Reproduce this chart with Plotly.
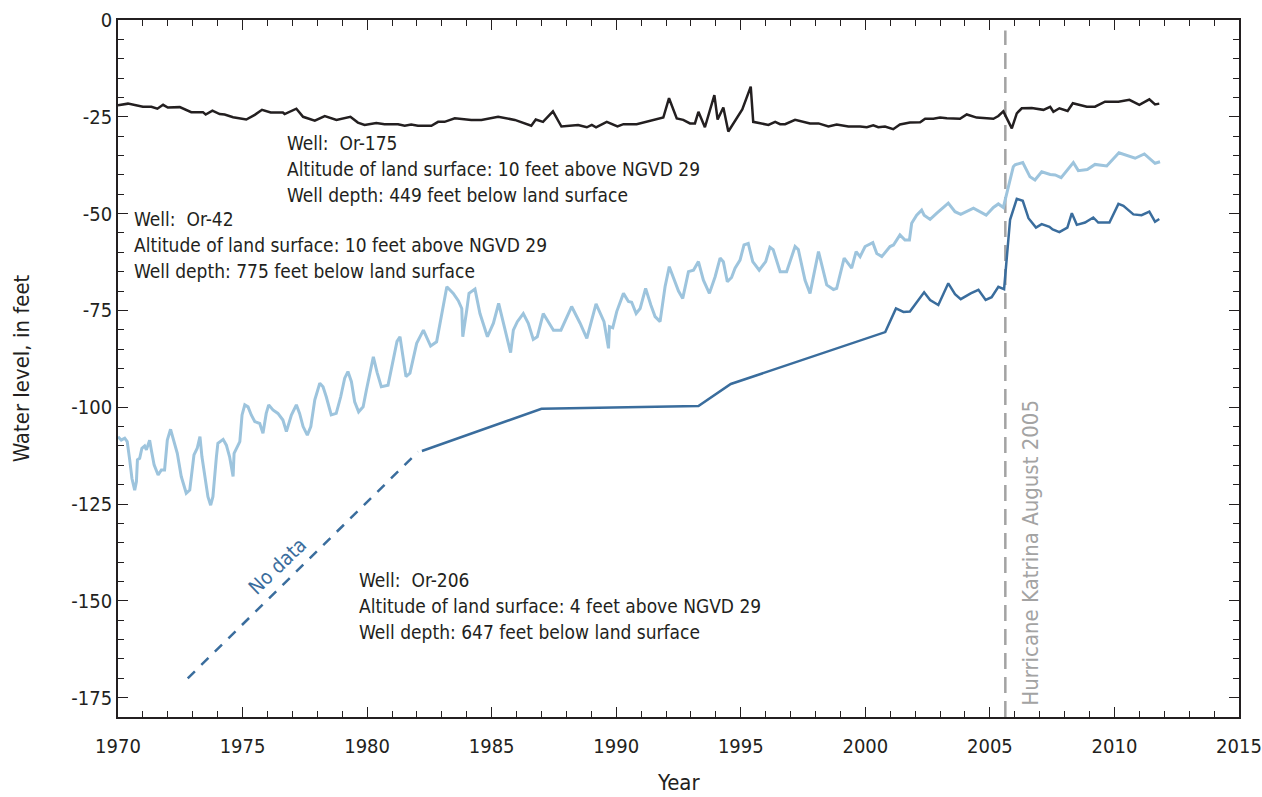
import plotly.graph_objects as go

# Well Or-175 (Sparta aquifer) water levels
or175_years = [1970.00, 1970.40, 1971.00, 1971.34, 1971.58, 1971.81, 1972.00, 1972.48, 1972.94, 1973.41,
               1973.52, 1973.79, 1974.08, 1974.28, 1974.62, 1975.15, 1975.49, 1975.78, 1976.13, 1976.62,
               1976.69, 1977.16, 1977.43, 1977.90, 1978.30, 1978.77, 1979.33, 1979.63, 1979.90, 1980.37,
               1980.70, 1981.24, 1981.51, 1981.77, 1982.04, 1982.58, 1982.85, 1983.11, 1983.52, 1984.18,
               1984.59, 1985.26, 1985.93, 1986.59, 1986.77, 1987.06, 1987.46, 1987.80, 1988.47, 1988.82,
               1989.02, 1989.19, 1989.62, 1990.05, 1990.29, 1990.82, 1991.89, 1992.12, 1992.43, 1992.69,
               1992.96, 1993.16, 1993.30, 1993.56, 1993.94, 1994.07, 1994.30, 1994.50, 1995.06, 1995.40,
               1995.50, 1996.11, 1996.38, 1996.58, 1996.78, 1997.18, 1997.78, 1998.12, 1998.52, 1998.85,
               1999.32, 1999.79, 2000.06, 2000.32, 2000.52, 2000.79, 2001.12, 2001.39, 2001.79, 2002.20,
               2002.40, 2002.73, 2003.00, 2003.27, 2003.80, 2004.07, 2004.47, 2004.94, 2005.14, 2005.34,
               2005.54, 2005.88, 2006.08, 2006.28, 2006.68, 2007.15, 2007.42, 2007.55, 2007.79, 2008.12,
               2008.33, 2008.89, 2009.22, 2009.62, 2010.16, 2010.60, 2011.00, 2011.40, 2011.63, 2011.80]
or175_levels = [-22.0, -21.6, -22.4, -22.4, -22.9, -21.9, -22.6, -22.5, -23.8, -23.8,
                -24.4, -23.4, -24.3, -24.4, -25.1, -25.7, -24.5, -23.2, -23.9, -23.9,
                -24.3, -22.9, -25.0, -26.0, -24.8, -25.8, -25.0, -26.5, -27.1, -26.6,
                -26.9, -26.9, -27.3, -27.0, -27.3, -27.3, -26.3, -26.3, -25.4, -25.8,
                -25.8, -25.0, -25.8, -27.3, -25.7, -26.3, -23.6, -27.5, -27.1, -27.7,
                -27.1, -27.7, -26.3, -27.5, -26.9, -26.9, -25.2, -20.2, -25.4, -25.8,
                -26.7, -26.7, -23.7, -27.7, -19.4, -25.7, -22.6, -28.8, -23.1, -17.2,
                -26.3, -27.1, -26.3, -26.9, -26.9, -25.8, -26.7, -26.7, -27.5, -27.0,
                -27.5, -27.5, -27.7, -27.2, -27.7, -27.5, -28.2, -27.0, -26.5, -26.4,
                -25.5, -25.5, -25.2, -25.4, -25.5, -24.4, -25.2, -25.5, -25.5, -24.8,
                -23.6, -28.0, -24.1, -22.8, -22.7, -23.2, -22.4, -23.7, -22.8, -23.5,
                -21.5, -22.4, -22.4, -21.1, -21.1, -20.6, -21.9, -20.5, -21.8, -21.6]

# Well Or-42 water levels
or42_years = [1970.00, 1970.13, 1970.27, 1970.37, 1970.47, 1970.56, 1970.67, 1970.74, 1970.78, 1970.87,
              1970.96, 1971.07, 1971.14, 1971.27, 1971.34, 1971.45, 1971.61, 1971.74, 1971.87, 1971.98,
              1972.11, 1972.25, 1972.38, 1972.54, 1972.74, 1972.88, 1973.05, 1973.18, 1973.29, 1973.37,
              1973.50, 1973.61, 1973.72, 1973.81, 1973.95, 1974.01, 1974.22, 1974.35, 1974.48, 1974.62,
              1974.66, 1974.75, 1974.89, 1974.98, 1975.09, 1975.22, 1975.35, 1975.49, 1975.69, 1975.82,
              1975.95, 1976.05, 1976.22, 1976.42, 1976.62, 1976.76, 1976.96, 1977.16, 1977.29, 1977.43,
              1977.60, 1977.74, 1977.90, 1978.10, 1978.23, 1978.36, 1978.56, 1978.76, 1978.94, 1979.10,
              1979.23, 1979.37, 1979.50, 1979.66, 1979.84, 1979.97, 1980.10, 1980.25, 1980.40, 1980.57,
              1980.84, 1981.04, 1981.20, 1981.32, 1981.56, 1981.72, 1981.99, 1982.26, 1982.55, 1982.79,
              1982.99, 1983.20, 1983.46, 1983.66, 1983.80, 1983.84, 1984.00, 1984.09, 1984.33, 1984.53,
              1984.83, 1985.07, 1985.28, 1985.50, 1985.76, 1985.87, 1986.03, 1986.27, 1986.47, 1986.67,
              1986.83, 1987.07, 1987.48, 1987.78, 1988.21, 1988.55, 1988.82, 1989.19, 1989.51, 1989.69,
              1989.73, 1989.86, 1990.02, 1990.29, 1990.49, 1990.62, 1990.80, 1990.96, 1991.18, 1991.39,
              1991.56, 1991.76, 1991.96, 1992.13, 1992.43, 1992.50, 1992.67, 1992.90, 1993.10, 1993.30,
              1993.50, 1993.74, 1993.97, 1994.17, 1994.30, 1994.46, 1994.63, 1994.77, 1994.97, 1995.13,
              1995.30, 1995.48, 1995.74, 1996.00, 1996.17, 1996.30, 1996.58, 1996.84, 1997.18, 1997.31,
              1997.58, 1997.78, 1998.12, 1998.45, 1998.72, 1998.85, 1999.15, 1999.45, 1999.63, 1999.79,
              1999.99, 2000.30, 2000.46, 2000.66, 2000.99, 2001.13, 2001.39, 2001.59, 2001.77, 2001.86,
              2002.06, 2002.26, 2002.36, 2002.60, 2002.87, 2003.33, 2003.60, 2003.83, 2004.34, 2004.85,
              2005.14, 2005.34, 2005.54, 2005.94, 2006.01, 2006.32, 2006.61, 2006.81, 2007.08, 2007.42,
              2007.62, 2007.86, 2008.35, 2008.55, 2008.91, 2009.22, 2009.69, 2010.18, 2010.83, 2011.20,
              2011.63, 2011.83]
or42_levels = [-107.6, -108.5, -108.0, -108.9, -113.6, -118.4, -121.4, -119.2, -113.6, -113.2,
               -110.6, -110.0, -111.0, -108.5, -111.1, -114.9, -117.5, -116.2, -116.2, -108.5,
               -105.7, -109.3, -111.9, -117.9, -122.2, -121.4, -112.3, -110.6, -107.6, -112.8,
               -118.8, -123.1, -125.3, -123.1, -112.8, -109.3, -108.3, -109.8, -112.8, -117.9,
               -111.9, -110.6, -108.9, -102.0, -99.4, -99.9, -102.0, -103.7, -104.2, -106.7,
               -101.6, -99.4, -100.7, -101.6, -103.3, -106.3, -102.0, -99.4, -101.6, -105.0,
               -107.2, -105.0, -98.1, -93.8, -94.7, -97.3, -102.0, -101.6, -97.3, -92.5,
               -90.8, -93.4, -98.6, -101.2, -99.9, -95.6, -91.2, -87.0, -91.0, -94.7,
               -94.3, -87.8, -83.0, -81.8, -92.1, -91.2, -83.5, -80.1, -84.2, -83.1,
               -75.8, -68.9, -70.6, -72.5, -74.5, -81.8, -74.9, -70.6, -69.5, -75.8,
               -81.8, -78.3, -73.2, -79.2, -85.9, -80.1, -77.9, -75.8, -78.3, -82.5,
               -81.8, -75.8, -80.1, -80.1, -74.0, -78.3, -82.2, -73.3, -77.9, -84.8,
               -79.2, -79.5, -75.3, -70.6, -72.7, -72.9, -75.8, -74.5, -69.3, -73.6,
               -76.6, -77.9, -68.9, -63.7, -68.9, -70.0, -71.9, -65.0, -64.6, -62.4,
               -67.2, -70.6, -66.3, -61.5, -62.4, -67.6, -66.5, -64.1, -62.0, -58.1,
               -57.7, -62.4, -64.6, -62.4, -58.7, -59.3, -65.0, -65.0, -58.5, -59.3,
               -67.2, -70.6, -59.8, -68.4, -69.6, -69.3, -61.5, -64.1, -59.8, -61.1,
               -58.5, -57.5, -60.3, -61.1, -58.5, -58.1, -55.5, -56.8, -56.8, -52.5,
               -50.4, -49.1, -50.4, -51.5, -49.9, -47.3, -49.5, -50.2, -48.6, -50.4,
               -48.4, -47.5, -48.4, -37.9, -37.4, -36.8, -40.5, -41.3, -39.2, -39.9,
               -40.0, -40.7, -36.8, -38.9, -38.6, -37.3, -37.7, -34.3, -35.7, -34.6,
               -37.0, -36.6]

# Well Or-206 water levels
or206_years = [1982.20, 1987.00, 1993.30, 1994.60, 2000.80, 2001.23, 2001.53, 2001.79, 2002.36, 2002.60,
               2002.93, 2003.33, 2003.60, 2003.83, 2004.23, 2004.54, 2004.83, 2005.07, 2005.34, 2005.57,
               2005.81, 2006.08, 2006.32, 2006.55, 2006.85, 2007.08, 2007.39, 2007.52, 2007.79, 2008.11,
               2008.29, 2008.49, 2008.82, 2009.15, 2009.35, 2009.80, 2010.16, 2010.36, 2010.76, 2011.09,
               2011.40, 2011.63, 2011.80]
or206_levels = [-111.3, -100.4, -99.7, -94.0, -80.6, -74.5, -75.4, -75.3, -70.3, -72.3,
                -73.6, -68.0, -70.8, -72.1, -70.6, -69.7, -72.3, -71.6, -68.9, -69.5,
                -51.6, -46.2, -46.7, -51.2, -53.6, -52.7, -53.4, -54.1, -54.8, -53.6,
                -49.9, -52.9, -52.3, -51.0, -52.3, -52.3, -47.5, -48.0, -50.2, -50.4,
                -49.5, -52.1, -51.4]

# Or-206 gap before the first measurement
no_data_years = [1972.8, 1982.05]
no_data_levels = [-170.0, -111.5]

katrina_year = 2005.62

x_ticks = [1970, 1975, 1980, 1985, 1990, 1995, 2000, 2005, 2010, 2015]
y_ticks = [0, -25, -50, -75, -100, -125, -150, -175]

FONT = "Liberation Sans Narrow, DejaVu Sans Condensed, Arial Narrow, sans-serif"
INK = "#231f20"
LIGHT = "#9dc4dd"
DARK = "#3a6d9d"
GREY = "#a3a3a3"

fig = go.Figure()
fig.add_trace(go.Scatter(x=no_data_years, y=no_data_levels, mode="lines",
                         line=dict(color=DARK, width=2.5, dash="10px,9px"), hoverinfo="skip"))
fig.add_trace(go.Scatter(x=or42_years, y=or42_levels, mode="lines", name="Or-42",
                         line=dict(color=LIGHT, width=3)))
fig.add_trace(go.Scatter(x=or206_years, y=or206_levels, mode="lines", name="Or-206",
                         line=dict(color=DARK, width=2.5)))
fig.add_trace(go.Scatter(x=or175_years, y=or175_levels, mode="lines", name="Or-175",
                         line=dict(color=INK, width=2.5)))

fig.add_shape(type="line", xref="x", yref="paper", x0=katrina_year, x1=katrina_year, y0=0, y1=0.985,
              line=dict(color=GREY, width=2.5, dash="16px,8px"), layer="below")

text_font = dict(family=FONT, size=19, color=INK)


def well_label(x, y, lines):
    for i, t in enumerate(lines):
        fig.add_annotation(x=x, y=y, xref="x", yref="y", text=t, showarrow=False,
                           xanchor="left", yanchor="middle", yshift=-26 * i, font=text_font)


well_label(1976.7, -31.7, ["Well:  Or-175",
                           "Altitude of land surface: 10 feet above NGVD 29",
                           "Well depth: 449 feet below land surface"])
well_label(1970.55, -51.4, ["Well:  Or-42",
                            "Altitude of land surface: 10 feet above NGVD 29",
                            "Well depth: 775 feet below land surface"])
well_label(1979.6, -144.7, ["Well:  Or-206",
                            "Altitude of land surface: 4 feet above NGVD 29",
                            "Well depth: 647 feet below land surface"])

fig.add_annotation(x=1976.4, y=-141.0, xref="x", yref="y", text="No data", showarrow=False,
                   textangle=-44, font=dict(family=FONT, size=20, color=DARK))
fig.add_annotation(x=katrina_year, y=-137.5, xref="x", yref="y", text="Hurricane Katrina August 2005",
                   showarrow=False, textangle=-90, xshift=25,
                   font=dict(family=FONT, size=22, color=GREY))

# x-axis title placed below the tick labels
fig.add_annotation(x=0.5, y=0, xref="paper", yref="paper", text="Year", showarrow=False,
                   yanchor="middle", yshift=-65, borderpad=0,
                   font=dict(family=FONT, size=22, color=INK))

axis_common = dict(showline=True, linecolor=INK, linewidth=1.6, mirror="allticks", ticks="inside",
                   tickcolor=INK, tickwidth=1.4, ticklen=10, showgrid=False, zeroline=False,
                   automargin=False, tickfont=dict(family=FONT, size=20, color=INK))

fig.update_xaxes(range=[1970, 2015], tickvals=x_ticks, ticktext=[str(v) for v in x_ticks],
                 ticklabelstandoff=10,
                 minor=dict(dtick=1, ticklen=6, ticks="inside", tickcolor=INK, tickwidth=1.4, showgrid=False),
                 **axis_common)
fig.update_yaxes(range=[-180, 0], tickvals=y_ticks, ticktext=[str(v) for v in y_ticks],
                 minor=dict(dtick=5, ticklen=6, ticks="inside", tickcolor=INK, tickwidth=1.4, showgrid=False),
                 title=dict(text="Water level, in feet", font=dict(family=FONT, size=22, color=INK), standoff=36),
                 **axis_common)

fig.update_layout(width=1262, height=797, margin=dict(l=118, r=23, t=20, b=80),
                  paper_bgcolor="white", plot_bgcolor="white", showlegend=False)

fig.write_html("out.html")
